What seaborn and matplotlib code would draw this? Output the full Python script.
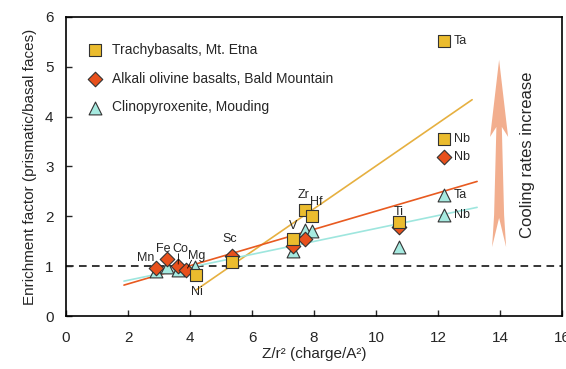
import matplotlib
matplotlib.use("Agg")
import matplotlib.pyplot as plt
from matplotlib.patches import Polygon
import seaborn as sns

sns.set_style("white")
plt.rcParams['font.family'] = ['Liberation Sans', 'DejaVu Sans']

# --- data ---
trachy_el = ["Ni", "Sc", "V", "Zr", "Hf", "Ti", "Nb", "Ta"]
trachy_x = [4.19, 5.35, 7.32, 7.71, 7.94, 10.74, 12.19, 12.19]
trachy_y = [0.82, 1.08, 1.55, 2.12, 2.01, 1.89, 3.55, 5.52]

alkali_el = ["Mn", "Fe", "Co", "Mg", "Sc", "V", "Zr", "Ti", "Nb"]
alkali_x = [2.90, 3.26, 3.61, 3.87, 5.35, 7.32, 7.71, 10.74, 12.19]
alkali_y = [0.96, 1.14, 1.00, 0.92, 1.20, 1.40, 1.55, 1.78, 3.19]

clino_el = ["Mn", "Fe", "Co", "Mg", "Sc", "V", "Zr", "Hf", "Ti", "Nb", "Ta"]
clino_x = [2.90, 3.26, 3.61, 4.15, 5.35, 7.32, 7.71, 7.94, 10.74, 12.19, 12.19]
clino_y = [0.90, 0.98, 0.92, 0.98, 1.10, 1.30, 1.72, 1.70, 1.38, 2.02, 2.42]

trend_x_trachy = [4.19, 13.10]
trend_y_trachy = [0.52, 4.34]
trend_x_alkali = [1.87, 13.26]
trend_y_alkali = [0.62, 2.70]
trend_x_clino = [1.87, 13.26]
trend_y_clino = [0.70, 2.18]

xticks = [0, 2, 4, 6, 8, 10, 12, 14, 16]
yticks = [0, 1, 2, 3, 4, 5, 6]

c_sq = "#EBBC2E"
c_di = "#E8501C"
c_tr = "#A6EAE0"

fig = plt.figure(figsize=(5.66, 3.69), dpi=100)
ax = fig.add_axes([0.1166, 0.1436, 0.8764, 0.8104])

# trend lines
sns.lineplot(x=trend_x_trachy, y=trend_y_trachy, ax=ax, color="#E6B040", lw=1.2, zorder=1)
sns.lineplot(x=trend_x_alkali, y=trend_y_alkali, ax=ax, color="#E85A20", lw=1.2, zorder=1)
sns.lineplot(x=trend_x_clino, y=trend_y_clino, ax=ax, color="#9EE6DE", lw=1.2, zorder=1)
ax.axhline(1, color="black", ls=(0, (5, 3.5)), lw=1.1, zorder=0)

# points
sns.scatterplot(x=clino_x, y=clino_y, ax=ax, marker="^", s=85, color=c_tr,
                edgecolor="#333333", linewidth=0.8, zorder=3,
                label="Clinopyroxenite, Mouding")
sns.scatterplot(x=alkali_x, y=alkali_y, ax=ax, marker="D", s=55, color=c_di,
                edgecolor="#333333", linewidth=0.8, zorder=4,
                label="Alkali olivine basalts, Bald Mountain")
sns.scatterplot(x=trachy_x, y=trachy_y, ax=ax, marker="s", s=75, color=c_sq,
                edgecolor="#333333", linewidth=0.8, zorder=5,
                label="Trachybasalts, Mt. Etna")

handles, labels = ax.get_legend_handles_labels()
leg = ax.legend(handles[::-1], labels[::-1], loc="upper left", frameon=False,
                fontsize=10, bbox_to_anchor=(0.01, 0.945), labelspacing=1.05,
                handletextpad=0.25, borderaxespad=0.3, markerscale=1.0)

# element labels
fs = 9
def lab(txt, x, y, ha="center"):
    ax.text(x, y, txt, fontsize=fs, ha=ha, va="center", zorder=6)

lab("Ta", 12.5, trachy_y[7], ha="left")
lab("Nb", 12.5, trachy_y[6], ha="left")
lab("Nb", 12.5, alkali_y[8], ha="left")
lab("Ta", 12.5, clino_y[10], ha="left")
lab("Nb", 12.5, clino_y[9], ha="left")
lab("Ti", 10.74, 2.08)
lab("Zr", 7.67, 2.42)
lab("Hf", 8.07, 2.28)
lab("V", 7.32, 1.80)
lab("Sc", 5.29, 1.55)
lab("Mn", 2.58, 1.17)
lab("Fe", 3.13, 1.34)
lab("Co", 3.70, 1.35)
lab("Mg", 4.22, 1.21)
lab("Ni", 4.23, 0.48)
ax.plot([3.63, 3.62], [1.25, 1.04], color="black", lw=0.6, zorder=6)
ax.plot([4.05, 3.92], [1.12, 0.96], color="black", lw=0.6, zorder=6)

# notched arrow (shape defined in pixel offsets, placed at the arrow's data position)
arrow_x, arrow_y0, arrow_y1 = 13.97, 1.39, 5.14
pxu_x = 31.0   # pixels per x unit
pxu_y = 49.8   # pixels per y unit
shape = [(0, 0), (9, 77), (2.7, 67), (5, 155), (7, 187), (0, 158),
         (-7, 187), (-5, 155), (-2.7, 67), (-9, 77)]
verts = [(arrow_x + dx / pxu_x, arrow_y1 - dy / pxu_y) for dx, dy in shape]
ax.add_patch(Polygon(verts, closed=True, facecolor="#F2AE8E", edgecolor="none", zorder=2))
ax.text(14.87, 3.23, "Cooling rates increase", rotation=90, ha="center", va="center",
        fontsize=12)

ax.set_xlim(0, 16)
ax.set_ylim(0, 6)
ax.set_xticks(xticks)
ax.set_yticks(yticks)
ax.tick_params(direction="in", length=4, width=1, labelsize=11,
               bottom=True, left=True)
ax.tick_params(axis="x", pad=11)
ax.tick_params(axis="y", pad=9)
for sp in ax.spines.values():
    sp.set_color("black")
    sp.set_linewidth(1.2)
ax.set_xlabel("Z/r² (charge/A²)", fontsize=11, labelpad=1)
ax.set_ylabel("Enrichment factor (prismatic/basal faces)", fontsize=11, labelpad=6)

fig.savefig("out.png", dpi=100)
